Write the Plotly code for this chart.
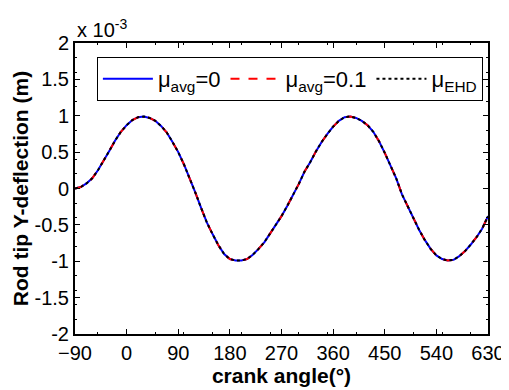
import plotly.graph_objects as go

crank_angle = [-90, -80, -70, -60, -50, -40, -30, -20, -10, 0, 10, 20, 30, 40, 50, 60, 70, 80, 90,
               100, 110, 120, 130, 140, 150, 160, 170, 180, 190, 200, 210, 220, 230, 240, 250, 260,
               270, 280, 290, 300, 310, 320, 330, 340, 350, 360, 370, 380, 390, 400, 410, 420, 430,
               440, 450, 460, 470, 480, 490, 500, 510, 520, 530, 540, 550, 560, 570, 580, 590, 600,
               610, 620, 630]

# deflection in units of 1e-3 m
mu_avg_0 = [0.0, 0.02, 0.07, 0.14, 0.25, 0.38, 0.52, 0.66, 0.78, 0.87, 0.94, 0.98, 0.99, 0.97, 0.93,
            0.86, 0.77, 0.64, 0.50, 0.33, 0.14, -0.06, -0.27, -0.47, -0.63, -0.78, -0.90, -0.97,
            -0.99, -0.99, -0.97, -0.91, -0.83, -0.74, -0.62, -0.50, -0.38, -0.24, -0.10, 0.06, 0.23,
            0.36, 0.51, 0.64, 0.75, 0.85, 0.93, 0.98, 0.99, 0.97, 0.93, 0.87, 0.78, 0.65, 0.49, 0.32,
            0.14, -0.08, -0.25, -0.42, -0.57, -0.71, -0.83, -0.92, -0.97, -0.99, -0.98, -0.93, -0.86,
            -0.77, -0.67, -0.55, -0.38]
mu_avg_01 = list(mu_avg_0)
mu_ehd = list(mu_avg_0)

x_ticks = [-90, 0, 90, 180, 270, 360, 450, 540, 630]
y_ticks = [-2, -1.5, -1, -0.5, 0, 0.5, 1, 1.5, 2]
y_tick_text = ["-2", "-1.5", "-1", "-0.5", "0", "0.5", "1", "1.5", "2"]

font_family = "Liberation Sans, Arial, sans-serif"

fig = go.Figure()
fig.add_trace(go.Scatter(x=crank_angle, y=mu_avg_0, mode="lines", name="μ<sub>avg</sub>=0",
                         line=dict(color="#0000ff", width=2)))
fig.add_trace(go.Scatter(x=crank_angle, y=mu_avg_01, mode="lines", name="μ<sub>avg</sub>=0.1",
                         line=dict(color="#ff0000", width=2, dash="dash")))
fig.add_trace(go.Scatter(x=crank_angle, y=mu_ehd, mode="lines", name="μ<sub>EHD</sub>",
                         line=dict(color="#000000", width=2, dash="dot")))

# page body has an 8px margin, so the figure is sized/offset to compensate
fig.update_layout(
    width=501, height=382,
    margin=dict(l=67, r=21, t=35, b=56, autoexpand=False),
    paper_bgcolor="white", plot_bgcolor="white",
    font=dict(family=font_family, size=20, color="black"),
    showlegend=True,
    legend=dict(orientation="h", x=0.053, y=0.952, xanchor="left", yanchor="top",
                bgcolor="white", bordercolor="black", borderwidth=1,
                font=dict(size=22), itemwidth=50, tracegroupgap=0),
    xaxis=dict(range=[-90, 630], tickvals=x_ticks, ticks="inside", ticklen=5, tickcolor="black",
               showline=True, linecolor="black", linewidth=2, mirror="ticks", showgrid=False,
               zeroline=False, tickfont=dict(size=20), automargin=False,
               minor=dict(ticks="inside", ticklen=2, nticks=5, tickcolor="black"),
               title=dict(text="<b>crank angle(°)</b>", font=dict(size=21), standoff=2)),
    yaxis=dict(range=[-2, 2], tickvals=y_ticks, ticktext=y_tick_text, ticks="inside", ticklen=5,
               tickcolor="black", showline=True, linecolor="black", linewidth=2, mirror="ticks",
               showgrid=False, zeroline=False, tickfont=dict(size=20), automargin=False,
               minor=dict(ticks="inside", ticklen=2, nticks=5, tickcolor="black"),
               title=dict(text="<b>Rod tip Y-deflection (m)</b>", font=dict(size=21), standoff=0)),
)

fig.add_annotation(text="x 10<sup>-3</sup>", xref="paper", yref="paper", x=0.0, y=1.0,
                   xanchor="left", yanchor="bottom", showarrow=False, font=dict(size=20))

fig.write_html("out.html")
